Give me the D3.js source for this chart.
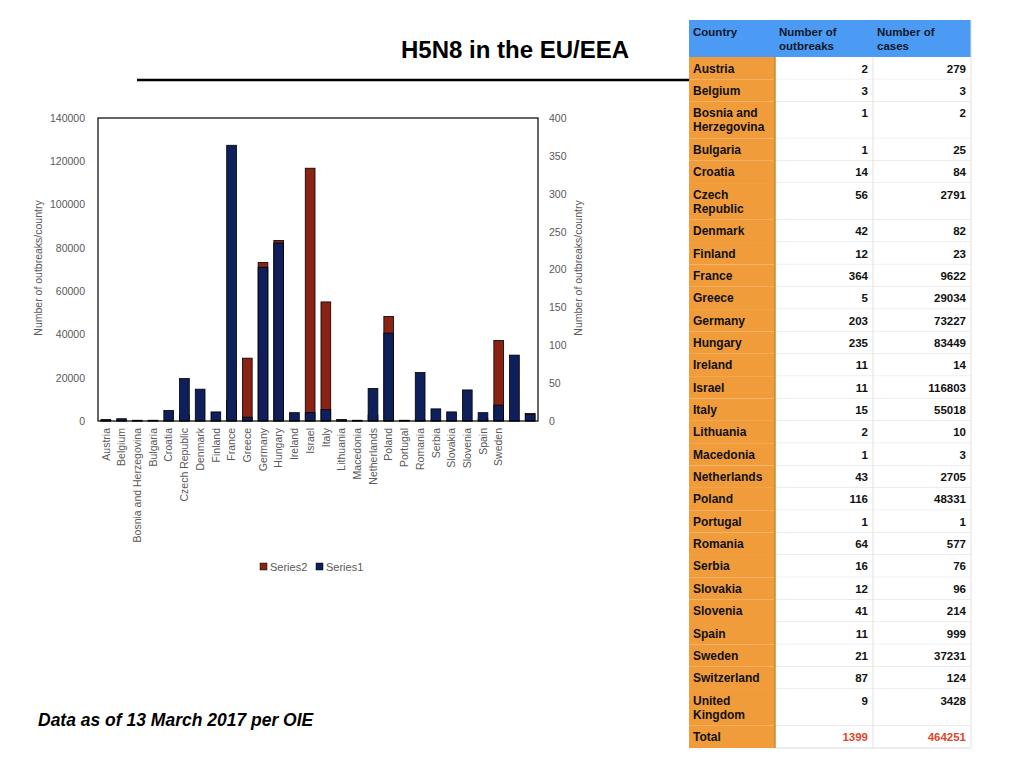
<!DOCTYPE html>
<html>
<head>
<meta charset="utf-8">
<script src="https://cdn.jsdelivr.net/npm/d3@7/dist/d3.min.js"></script>
<style>
  body { margin: 0; background: #fff; }
  svg { display: block; }
</style>
</head>
<body>
<div id="chart"></div>
<script>
var countries = ["Austria", "Belgium", "Bosnia and Herzegovina", "Bulgaria", "Croatia",
    "Czech Republic", "Denmark", "Finland", "France", "Greece", "Germany", "Hungary",
    "Ireland", "Israel", "Italy", "Lithuania", "Macedonia", "Netherlands", "Poland",
    "Portugal", "Romania", "Serbia", "Slovakia", "Slovenia", "Spain", "Sweden",
    "Switzerland", "United Kingdom"];
var outbreaks = [2, 3, 1, 1, 14, 56, 42, 12, 364, 5, 203, 235, 11, 11, 15, 2, 1, 43, 116,
    1, 64, 16, 12, 41, 11, 21, 87, 9];
var cases = [279, 3, 2, 25, 84, 2791, 82, 23, 9622, 29034, 73227, 83449, 14, 116803,
    55018, 10, 3, 2705, 48331, 1, 577, 76, 96, 214, 999, 37231, 124, 3428];
// the chart only labels the first 26 categories
var axisLabelCount = 26;
var leftTicks = [0, 20000, 40000, 60000, 80000, 100000, 120000, 140000];
var rightTicks = [0, 50, 100, 150, 200, 250, 300, 350, 400];
var tableHeaders = ["Country", "Number of outbreaks", "Number of cases"];
var totalOutbreaks = 1399;
var totalCases = 464251;

function init() {
    d3.select("svg").remove();

    var W = 1024, H = 768;
    var navy = "#0e1f5b", red = "#8b2315", grey = "#595959";

    var svg = d3.select("#chart")
        .append("svg")
        .attr("width", W)
        .attr("height", H);

    // title and rule
    svg.append("text")
        .attr("x", 515)
        .attr("y", 58)
        .attr("text-anchor", "middle")
        .style("font-family", "Liberation Sans, Arial, sans-serif")
        .style("font-weight", "bold")
        .style("font-size", "24px")
        .text("H5N8 in the EU/EEA");

    svg.append("line")
        .attr("x1", 137).attr("x2", 690)
        .attr("y1", 80).attr("y2", 80)
        .attr("stroke", "#000")
        .attr("stroke-width", 2.5);

    // chart area
    var plot = { left: 98, right: 538, top: 118, bottom: 421 };

    var xScale = d3.scaleBand()
        .domain(countries)
        .range([plot.left, plot.right])
        .paddingInner(0.38)
        .paddingOuter(0.19);

    var yLeft = d3.scaleLinear()
        .domain([0, 140000])
        .range([plot.bottom, plot.top]);

    var yRight = d3.scaleLinear()
        .domain([0, 400])
        .range([plot.bottom, plot.top]);

    // Series2 (cases) on primary axis, behind
    svg.append("g").selectAll("rect")
        .data(cases)
        .enter()
        .append("rect")
        .attr("x", function (d, i) { return xScale(countries[i]); })
        .attr("y", function (d) { return yLeft(d); })
        .attr("width", xScale.bandwidth())
        .attr("height", function (d) { return plot.bottom - yLeft(d); })
        .attr("fill", red)
        .attr("stroke", "#000")
        .attr("stroke-width", 0.8);

    // Series1 (outbreaks) on secondary axis, in front
    svg.append("g").selectAll("rect")
        .data(outbreaks)
        .enter()
        .append("rect")
        .attr("x", function (d, i) { return xScale(countries[i]); })
        .attr("y", function (d) { return yRight(d); })
        .attr("width", xScale.bandwidth())
        .attr("height", function (d) { return plot.bottom - yRight(d); })
        .attr("fill", navy)
        .attr("stroke", "#000")
        .attr("stroke-width", 0.8);

    // plot frame
    svg.append("rect")
        .attr("x", plot.left)
        .attr("y", plot.top)
        .attr("width", plot.right - plot.left)
        .attr("height", plot.bottom - plot.top)
        .attr("fill", "none")
        .attr("stroke", "#000")
        .attr("stroke-width", 1.2);

    // axes
    var yAxisL = d3.axisLeft(yLeft).tickValues(leftTicks).tickSize(0).tickPadding(13)
        .tickFormat(d3.format("d"));
    var yAxisR = d3.axisRight(yRight).tickValues(rightTicks).tickSize(0).tickPadding(11)
        .tickFormat(d3.format("d"));
    var xAxis = d3.axisBottom(xScale).tickSize(0)
        .tickFormat(function (d, i) { return i < axisLabelCount ? d : ""; });

    var gl = svg.append("g")
        .attr("transform", "translate(" + plot.left + ",0)")
        .call(yAxisL);
    var gr = svg.append("g")
        .attr("transform", "translate(" + plot.right + ",0)")
        .call(yAxisR);
    var gx = svg.append("g")
        .attr("transform", "translate(0," + plot.bottom + ")")
        .call(xAxis);

    [gl, gr, gx].forEach(function (g) {
        g.select(".domain").remove();
        g.selectAll("text")
            .style("font-family", "Liberation Sans, Arial, sans-serif")
            .style("font-size", "10.5px")
            .attr("fill", grey);
    });

    gx.selectAll("text")
        .attr("transform", "rotate(-90)")
        .attr("text-anchor", "end")
        .attr("x", -7)
        .attr("y", 0)
        .attr("dy", "0.35em")
        .style("font-size", "10.5px");

    // axis titles
    [38, 578].forEach(function (x) {
        svg.append("text")
            .attr("transform", "translate(" + x + ",268) rotate(-90)")
            .attr("text-anchor", "middle")
            .attr("dy", "0.35em")
            .attr("fill", grey)
            .style("font-family", "Liberation Sans, Arial, sans-serif")
            .style("font-size", "10.5px")
            .text("Number of outbreaks/country");
    });

    // legend
    var legend = svg.append("g").attr("transform", "translate(260,567)");
    [["Series2", red], ["Series1", navy]].forEach(function (s, i) {
        var g = legend.append("g").attr("transform", "translate(" + (i * 56) + ",0)");
        g.append("rect")
            .attr("x", 0).attr("y", -4)
            .attr("width", 7).attr("height", 7)
            .attr("fill", s[1])
            .attr("stroke", "#000")
            .attr("stroke-width", 0.5);
        g.append("text")
            .attr("x", 10)
            .attr("y", 0)
            .attr("dy", "0.35em")
            .attr("fill", grey)
            .style("font-family", "Liberation Sans, Arial, sans-serif")
            .style("font-size", "11px")
            .text(s[0]);
    });

    // footer note
    svg.append("text")
        .attr("x", 38)
        .attr("y", 726)
        .style("font-family", "Liberation Sans, Arial, sans-serif")
        .style("font-weight", "bold")
        .style("font-style", "italic")
        .style("font-size", "17.5px")
        .text("Data as of 13 March 2017 per OIE");

    drawTable(svg);
}

// split a label into lines of at most maxChars
function wrapWords(str, maxChars) {
    var words = str.split(" ");
    var lines = [];
    var cur = "";
    words.forEach(function (w) {
        if (cur === "") {
            cur = w;
        } else if ((cur + " " + w).length <= maxChars) {
            cur += " " + w;
        } else {
            lines.push(cur);
            cur = w;
        }
    });
    lines.push(cur);
    return lines;
}

function drawTable(svg) {
    var colX = [689, 775, 873, 971];
    var top = 20, headH = 37, lineH = 22.35, extraH = 14.3;
    var font = "Liberation Sans, Arial, sans-serif";

    var rows = countries.map(function (c, i) {
        return { name: wrapWords(c, 11), o: outbreaks[i], c: cases[i], total: false };
    });
    rows.push({ name: ["Total"], o: totalOutbreaks, c: totalCases, total: true });

    var y = top + headH;
    rows.forEach(function (r) {
        r.y = y;
        r.h = lineH + (r.name.length - 1) * extraH;
        y += r.h;
    });

    var t = svg.append("g");

    // header
    t.append("rect")
        .attr("x", colX[0]).attr("y", top)
        .attr("width", colX[3] - colX[0]).attr("height", headH)
        .attr("fill", "#4b9bf4");

    tableHeaders.forEach(function (h, i) {
        var lines = wrapWords(h, 10);
        lines.forEach(function (l, k) {
            t.append("text")
                .attr("x", colX[i] + 4)
                .attr("y", top + 16 + k * 14)
                .attr("fill", "#10182a")
                .style("font-family", font)
                .style("font-weight", "bold")
                .style("font-size", "11.5px")
                .text(l);
        });
    });

    // body rows
    var rg = t.selectAll("g.row")
        .data(rows)
        .enter()
        .append("g")
        .attr("class", "row")
        .attr("transform", function (d) { return "translate(0," + d.y + ")"; });

    rg.append("rect")
        .attr("x", colX[0]).attr("y", 0)
        .attr("width", colX[1] - colX[0])
        .attr("height", function (d) { return d.h; })
        .attr("fill", "#f09c3a");

    rg.append("rect")
        .attr("x", colX[1]).attr("y", 0)
        .attr("width", colX[3] - colX[1])
        .attr("height", function (d) { return d.h; })
        .attr("fill", "#fff");

    rg.append("line")
        .attr("x1", colX[1]).attr("x2", colX[3])
        .attr("y1", function (d) { return d.h; })
        .attr("y2", function (d) { return d.h; })
        .attr("stroke", "#dcdcdc")
        .attr("stroke-width", 1);

    rg.each(function (d) {
        var g = d3.select(this);
        d.name.forEach(function (l, k) {
            g.append("text")
                .attr("x", colX[0] + 4)
                .attr("y", 15.5 + k * 14)
                .attr("fill", "#111")
                .style("font-family", font)
                .style("font-weight", "bold")
                .style("font-size", "12px")
                .text(l);
        });
        [d.o, d.c].forEach(function (v, k) {
            g.append("text")
                .attr("x", colX[k + 2] - 5)
                .attr("y", 15.5)
                .attr("text-anchor", "end")
                .attr("fill", d.total ? "#e2452c" : "#111")
                .style("font-family", font)
                .style("font-weight", "bold")
                .style("font-size", "11.5px")
                .text(v);
        });
    });

    // column separators
    t.append("line")
        .attr("x1", colX[1]).attr("x2", colX[1])
        .attr("y1", top + headH).attr("y2", y)
        .attr("stroke", "#c9893a").attr("stroke-width", 1.5);
    t.append("line")
        .attr("x1", colX[2]).attr("x2", colX[2])
        .attr("y1", top + headH).attr("y2", y)
        .attr("stroke", "#e2e2e2").attr("stroke-width", 1);
    t.append("line")
        .attr("x1", colX[3]).attr("x2", colX[3])
        .attr("y1", top).attr("y2", y)
        .attr("stroke", "#e2e2e2").attr("stroke-width", 1);
}

window.onload = init;
</script>
</body>
</html>
